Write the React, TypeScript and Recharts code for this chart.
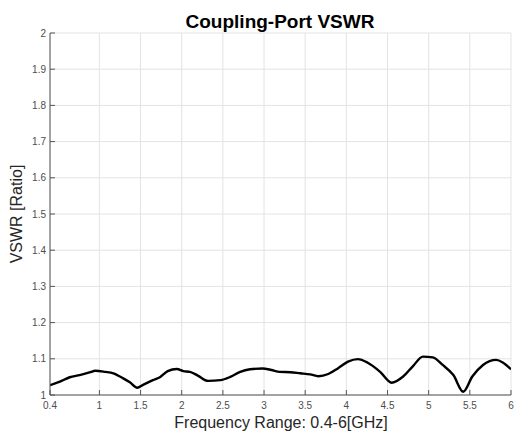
import React from 'react';
import { LineChart, Line, XAxis, YAxis, CartesianGrid } from 'recharts';

const freqGHz = [
  0.4, 0.52, 0.64, 0.76, 0.89, 0.95, 1.07, 1.17, 1.29, 1.37, 1.46, 1.53, 1.65, 1.74, 1.83, 1.94,
  2.02, 2.1, 2.2, 2.32, 2.47, 2.59, 2.71, 2.83, 2.98, 3.09, 3.19, 3.32, 3.44, 3.56, 3.66, 3.78,
  3.9, 4.02, 4.14, 4.26, 4.41, 4.55, 4.69, 4.81, 4.93, 5.05, 5.17, 5.3, 5.42, 5.53, 5.66, 5.82,
  5.9, 6.0,
];
const vswr = [
  1.027, 1.037, 1.049, 1.055, 1.063, 1.067, 1.064, 1.06, 1.046, 1.035, 1.02, 1.028, 1.041, 1.05,
  1.066, 1.072, 1.066, 1.064, 1.053, 1.039, 1.041, 1.05, 1.064, 1.071, 1.073, 1.069, 1.064, 1.063,
  1.06, 1.057, 1.052, 1.058, 1.074, 1.092, 1.099, 1.089, 1.064, 1.034, 1.051, 1.08, 1.106, 1.104,
  1.083, 1.055, 1.009, 1.051, 1.083, 1.097, 1.09, 1.071,
];
const xTicks = [0.4, 1, 1.5, 2, 2.5, 3, 3.5, 4, 4.5, 5, 5.5, 6];
const yTicks = [1, 1.1, 1.2, 1.3, 1.4, 1.5, 1.6, 1.7, 1.8, 1.9, 2];

const data = freqGHz.map((f, i) => ({ f, v: vswr[i] }));

const FONT = '"Liberation Sans", Arial, Helvetica, sans-serif';
const AX = '#555555';
const TICK = { fill: '#4d4d4d', fontSize: 10, fontFamily: FONT };
const fmt = (v: number) => String(Number(v.toFixed(1)));

export default function App() {
  return (
    <div style={{ position: 'absolute', left: 0, top: 0, width: 515, height: 434, background: '#fff' }}>
      <LineChart width={515} height={434} data={data} margin={{ top: 33, right: 4, bottom: 0, left: 0 }}>
        <CartesianGrid stroke="#e3e3e3" strokeWidth={1} />
        <XAxis
          dataKey="f"
          type="number"
          domain={[0.4, 6]}
          ticks={xTicks}
          allowDataOverflow
          height={39}
          tickSize={-5}
          tickMargin={12}
          tick={TICK}
          tickFormatter={fmt}
          stroke={AX}
          interval={0}
        />
        <XAxis
          xAxisId="top"
          orientation="top"
          dataKey="f"
          type="number"
          domain={[0.4, 6]}
          ticks={xTicks}
          allowDataOverflow
          height={0}
          tickSize={-5}
          tickFormatter={() => ''}
          stroke={AX}
          interval={0}
        />
        <YAxis
          type="number"
          domain={[1, 2]}
          ticks={yTicks}
          allowDataOverflow
          width={50}
          tickSize={-5}
          tickMargin={9}
          tick={TICK}
          tickFormatter={fmt}
          stroke={AX}
          interval={0}
        />
        <YAxis
          yAxisId="right"
          orientation="right"
          type="number"
          domain={[1, 2]}
          ticks={yTicks}
          allowDataOverflow
          width={0}
          tickSize={-5}
          tickFormatter={() => ''}
          stroke={AX}
          interval={0}
        />
        <Line
          dataKey="v"
          type="monotone"
          stroke="#000"
          strokeWidth={2.4}
          dot={false}
          isAnimationActive={false}
        />
        <text x={280} y={28} textAnchor="middle" fontWeight="bold" fontSize={19} fontFamily={FONT} fill="#000">
          Coupling-Port VSWR
        </text>
        <text x={281} y={428} textAnchor="middle" fontSize={16} fontFamily={FONT} fill="#262626">
          Frequency Range: 0.4-6[GHz]
        </text>
        <text
          x={22}
          y={214}
          textAnchor="middle"
          fontSize={16}
          fontFamily={FONT}
          fill="#262626"
          transform="rotate(-90 22 214)"
        >
          VSWR [Ratio]
        </text>
      </LineChart>
    </div>
  );
}
